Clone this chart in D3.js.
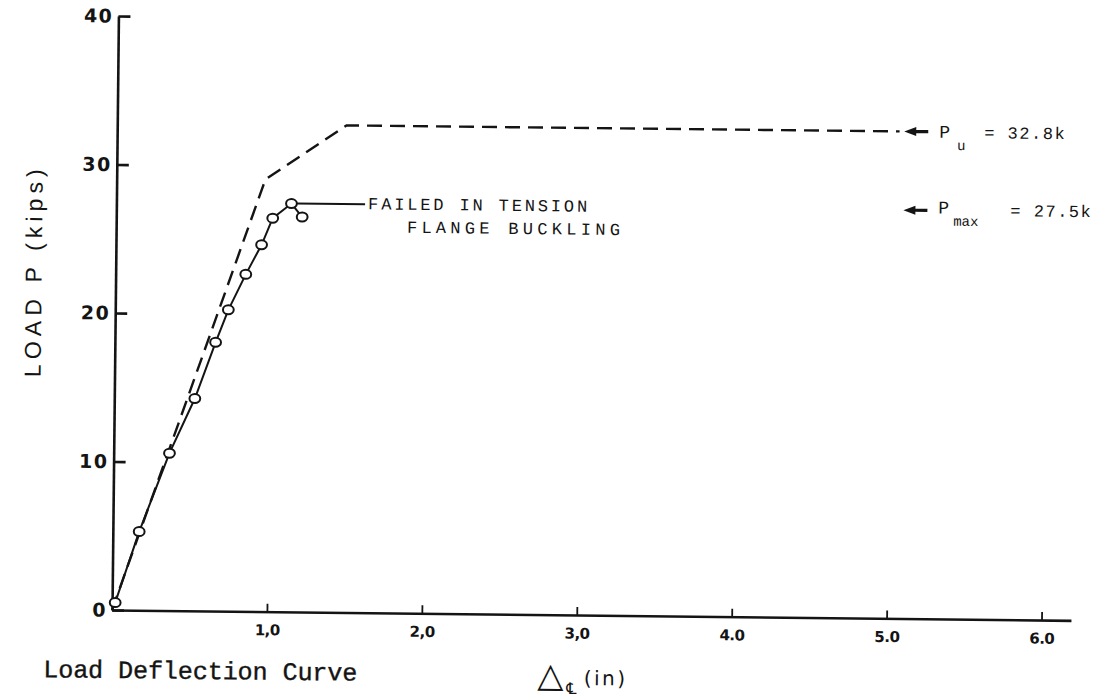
<!DOCTYPE html>
<html><head><meta charset="utf-8">
<script src="https://cdn.jsdelivr.net/npm/d3@7"></script>
<style>
html,body{margin:0;padding:0;background:#fff;}
svg{display:block;}
</style></head>
<body>
<svg id="chart" width="1106" height="698"></svg>
<script>
// Measured load–deflection points (centre-line deflection in inches, load in kips)
const deflection = [0.02, 0.17, 0.36, 0.52, 0.65, 0.73, 0.84, 0.94, 1.01, 1.13, 1.20];
const load       = [0.5, 5.3, 10.6, 14.3, 18.1, 20.3, 22.7, 24.7, 26.5, 27.5, 26.6];

// Predicted (idealised) response, levelling off at the ultimate load
const predDeflection = [0, 0.96, 1.48, 5.05];
const predLoad       = [0, 29.1, 32.8, 32.8];

const xTicks = [1, 2, 3, 4, 5, 6];
const xTickLabels = ["1,0", "2,0", "3,0", "4.0", "5.0", "6.0"];
const yTicks = [0, 10, 20, 30, 40];
const yTickLabels = ["0", "10", "20", "30", "40"];

const P_u = 32.8;
const P_max = 27.5;

const ink = "#141414";
const svg = d3.select("#chart");

const x = d3.scaleLinear().domain([0, 6.19]).range([112, 1071]);
const y = d3.scaleLinear().domain([0, 40]).range([610, 16]);

// the sheet sits a little off square
const g = svg.append("g").attr("transform", "rotate(0.62,112,610)");

// axes
const xAxis = d3.axisBottom(x)
  .tickValues(xTicks)
  .tickSize(-8).tickSizeOuter(0).tickPadding(13)
  .tickFormat((d, i) => xTickLabels[i]);
const gx = g.append("g").attr("transform", `translate(0,${y(0)})`).call(xAxis);
gx.select(".domain").attr("stroke", ink).attr("stroke-width", 2.6);
gx.selectAll(".tick line").attr("stroke", ink).attr("stroke-width", 1.8);
gx.selectAll(".tick text")
  .attr("fill", ink)
  .style("font-family", "'DejaVu Sans', sans-serif")
  .style("font-size", "15px")
  .style("font-weight", "bold")
  .style("letter-spacing", "-0.5px");

const yAxis = d3.axisLeft(y)
  .tickValues(yTicks)
  .tickSize(-12).tickSizeOuter(0).tickPadding(5)
  .tickFormat((d, i) => yTickLabels[i]);
const gy = g.append("g").attr("transform", `translate(${x(0)},0)`).call(yAxis);
gy.select(".domain").attr("stroke", ink).attr("stroke-width", 2.6);
gy.selectAll(".tick line").attr("stroke", ink).attr("stroke-width", 2.6);
gy.selectAll(".tick text")
  .attr("fill", ink)
  .style("font-family", "'DejaVu Sans', sans-serif")
  .style("font-size", "19px")
  .style("font-weight", "bold")
  .style("letter-spacing", "1.5px");

// predicted curve (dashed)
const idx = d3.range(predDeflection.length);
g.append("path")
  .attr("d", d3.line().x(i => x(predDeflection[i])).y(i => y(predLoad[i]))(idx))
  .attr("fill", "none").attr("stroke", ink)
  .attr("stroke-width", 2.4).attr("stroke-dasharray", "15,8");

// measured curve
const mIdx = d3.range(deflection.length);
g.append("path")
  .attr("d", d3.line().x(i => x(deflection[i])).y(i => y(load[i]))(mIdx))
  .attr("fill", "none").attr("stroke", ink).attr("stroke-width", 2);

g.selectAll("ellipse.pt").data(mIdx).join("ellipse")
  .attr("class", "pt")
  .attr("cx", i => x(deflection[i])).attr("cy", i => y(load[i]))
  .attr("rx", 5.4).attr("ry", 4.5)
  .attr("fill", "#fff").attr("stroke", ink).attr("stroke-width", 2);

// failure note with leader from the peak
const peak = d3.maxIndex(load);
g.append("line")
  .attr("x1", x(deflection[peak]) + 5).attr("x2", x(1.605))
  .attr("y1", y(load[peak])).attr("y2", y(load[peak]))
  .attr("stroke", ink).attr("stroke-width", 2);

const typeFont = "'Liberation Mono', 'Courier New', monospace";
g.append("text")
  .attr("x", x(1.625)).attr("y", y(load[peak]) + 5)
  .attr("textLength", 219).attr("lengthAdjust", "spacing")
  .style("font-family", typeFont).style("font-size", "17px")
  .attr("fill", ink)
  .text("FAILED IN TENSION");
g.append("text")
  .attr("x", x(1.877)).attr("y", y(load[peak]) + 28)
  .attr("textLength", 213).attr("lengthAdjust", "spacing")
  .style("font-family", typeFont).style("font-size", "17px")
  .attr("fill", ink)
  .text("FLANGE BUCKLING");

// load markers on the right
function marker(val, sub, valueText, o) {
  const ax = x(5.08), ay = y(val);
  g.append("path")
    .attr("d", `M${ax},${ay}L${ax + 12},${ay - 4.5}L${ax + 12},${ay + 4.5}Z`)
    .attr("fill", ink);
  g.append("line")
    .attr("x1", ax + 10).attr("x2", ax + 24).attr("y1", ay).attr("y2", ay)
    .attr("stroke", ink).attr("stroke-width", 3.2);
  g.append("text").attr("x", ax + 35).attr("y", ay + o.pDy)
    .style("font-family", typeFont).style("font-size", "18px").attr("fill", ink)
    .text("P");
  g.append("text").attr("x", ax + o.subDx).attr("y", ay + o.subDy)
    .style("font-family", typeFont).style("font-size", "14px").attr("fill", ink)
    .text(sub);
  g.append("text").attr("x", ax + o.eqDx).attr("y", ay + o.valDy)
    .style("font-family", typeFont).style("font-size", "17px").attr("fill", ink)
    .style("letter-spacing", "1.5px")
    .text("=  " + valueText);
}
marker(P_u, "u", "32.8k", { pDy: 6, subDx: 53, subDy: 18, eqDx: 80, valDy: 6 });
marker(P_max, "max", "27.5k", { pDy: 3, subDx: 50, subDy: 15, eqDx: 107, valDy: 5 });

// axis titles and caption
g.append("text")
  .attr("transform", "translate(38,274) rotate(-90)")
  .attr("text-anchor", "middle")
  .attr("textLength", 208).attr("lengthAdjust", "spacing")
  .style("font-family", "'Liberation Sans', Arial, sans-serif")
  .style("font-size", "23px").attr("fill", ink)
  .text("LOAD P (kips)");

g.append("text")
  .attr("x", 44).attr("y", 678)
  .attr("textLength", 314).attr("lengthAdjust", "spacing")
  .style("font-family", typeFont).style("font-size", "25px")
  .attr("fill", ink).attr("stroke", ink).attr("stroke-width", 0.4)
  .text("Load Deflection Curve");

const xTitle = g.append("text")
  .attr("x", 538).attr("y", 682)
  .style("font-family", "'DejaVu Sans', sans-serif").attr("fill", ink);
xTitle.append("tspan").style("font-size", "34px").text("△");
xTitle.append("tspan").attr("dy", 7).attr("dx", 3).style("font-size", "16px").text("℄");
xTitle.append("tspan").attr("dy", -9).attr("dx", 7)
  .style("font-size", "20px").style("letter-spacing", "2.5px").text("(in)");
</script>
</body></html>
